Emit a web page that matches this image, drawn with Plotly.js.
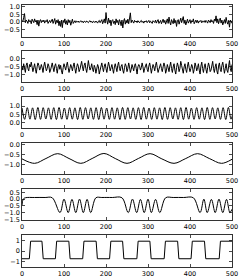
<!DOCTYPE html>
<html><head><meta charset="utf-8">
<script src="https://cdn.plot.ly/plotly-3.0.1.min.js"></script>
<style>html,body{margin:0;padding:0;background:#fff}#c{width:245px;height:280px}</style>
</head><body><div id="c"></div>
<script>
// Panel 1: noise around 0 (sampled every 2 units)
const noise1 = [0.10,0.02,0.30,0.55,-0.05,0.12,0.05,-0.10,0.15,0.02,
0.08,-0.12,0.18,0.05,-0.05,0.20,0.00,0.10,-0.18,0.12,
-0.28,0.05,0.15,-0.05,0.10,0.00,0.12,-0.08,0.08,0.02,
0.15,-0.10,0.05,0.10,-0.05,0.08,0.18,-0.10,0.05,0.22,
-0.15,0.10,-0.05,0.15,-0.25,0.05,-0.30,0.12,-0.38,0.10,
-0.05,0.20,-0.15,0.08,-0.20,0.15,-0.05,0.10,-0.22,0.05,
0.18,-0.10,0.02,0.08,-0.05,0.05,0.00,0.06,-0.04,0.03,
0.08,-0.02,0.04,-0.06,0.05,0.02,-0.03,0.06,0.00,-0.05,
0.04,0.08,-0.02,0.03,-0.06,0.05,0.00,-0.04,0.06,0.02,
-0.08,0.05,0.10,-0.05,0.08,0.15,-0.12,0.05,0.20,-0.08,
0.62,0.10,-0.15,0.25,-0.05,0.12,-0.25,0.08,0.15,-0.10,
0.05,-0.18,0.20,-0.05,0.10,-0.20,0.15,0.02,-0.25,0.12,
-0.40,0.05,0.22,-0.15,0.10,-0.08,0.18,-0.12,0.25,0.60,
-0.05,0.12,0.02,-0.08,0.10,0.00,0.06,-0.05,0.08,0.02,
-0.06,0.05,0.10,-0.03,0.04,-0.08,0.06,0.00,0.08,-0.05,
0.03,0.10,-0.06,0.05,0.00,-0.10,0.08,0.02,-0.04,0.12,
-0.08,0.05,0.15,-0.10,0.02,0.10,-0.12,0.06,0.18,-0.05,
0.10,-0.15,0.05,0.20,-0.10,0.32,0.00,-0.20,0.15,0.05,
-0.12,0.22,-0.08,0.10,-0.30,0.08,0.15,-0.15,0.05,0.25,
-0.05,0.10,0.35,-0.10,0.12,-0.20,0.05,0.18,-0.08,0.02,
0.15,-0.10,0.08,0.00,0.20,-0.12,0.05,0.12,-0.05,0.10,
-0.08,0.06,0.02,0.10,-0.06,0.05,0.00,0.08,-0.04,0.10,
0.02,-0.08,0.12,0.05,-0.05,0.15,0.00,0.08,-0.10,0.18,
0.05,0.40,-0.05,0.20,-0.12,0.10,0.25,-0.08,0.12,-0.20,
0.05,0.15,-0.10,0.30,0.00,-0.15,0.10,-0.35,0.12,0.05,
-0.10];
// Panel 2: noise around -0.5 (sampled every 2 units)
const noise2 = [-0.45,-0.70,-0.30,-0.55,-0.85,-0.40,-0.25,-0.60,-0.75,-0.35,
-0.50,-0.20,-0.45,-0.80,-0.55,-0.30,-0.65,-0.90,-0.50,-0.25,
-0.40,-0.70,-0.60,-0.35,-0.55,-0.85,-0.45,-0.20,-0.50,-0.75,
-0.60,-0.30,-0.45,-0.85,-0.70,-0.40,-0.25,-0.55,-0.80,-0.45,
-0.30,-0.60,-0.90,-0.50,-0.35,-0.65,-0.40,-0.75,-0.95,-0.55,
-0.30,-0.50,-0.70,-0.40,-0.20,-0.55,-0.85,-0.60,-0.35,-0.50,
-0.75,-0.45,-0.25,-0.60,-0.90,-0.55,-0.30,-0.45,-0.80,-0.65,
-0.35,-0.15,-0.50,-0.75,-0.40,-0.25,-0.60,-0.85,-0.50,-0.10,
-0.45,-0.70,-0.55,-0.30,-0.65,-0.80,-0.40,-0.55,-0.90,-0.60,
-0.35,-0.50,-0.95,-0.70,-0.40,-0.25,-0.55,-0.80,-0.45,-0.30,
-0.60,-0.85,-0.50,-0.20,-0.45,-0.75,-0.55,-0.35,-0.65,-0.90,
-0.50,-0.30,-0.55,-0.80,-0.40,-0.20,-0.60,-0.75,-0.45,-0.35,
-0.70,-0.90,-0.55,-0.30,-0.45,-0.80,-0.60,-0.25,-0.50,-0.85,
-0.65,-0.35,-0.55,-0.75,-0.40,-0.30,-0.60,-0.95,-0.50,-0.35,
-0.45,-0.70,-0.55,-0.25,-0.50,-0.85,-0.60,-0.40,-0.30,-0.65,
-0.80,-0.45,-0.25,-0.55,-0.90,-0.60,-0.35,-0.50,-0.75,-0.40,
-0.20,-0.55,-0.85,-0.65,-0.40,-0.30,-0.60,-0.80,-0.50,-0.25,
-0.45,-0.90,-0.70,-0.35,-0.55,-0.80,-0.45,-0.20,-0.60,-0.85,
-0.50,-0.30,-0.70,-0.95,-0.55,-0.25,-0.45,-0.80,-0.60,-0.15,
-0.40,-0.75,-0.90,-0.50,-0.30,-0.65,-0.85,-0.45,-0.20,-0.55,
-0.80,-0.60,-0.35,-0.50,-0.90,-0.65,-0.25,-0.45,-0.75,-0.55,
-0.30,-0.70,-0.95,-0.45,-0.20,-0.60,-0.85,-0.50,-0.30,-0.65,
-0.90,-0.55,-0.25,-0.45,-0.80,-0.70,-0.35,-0.15,-0.60,-0.85,
-0.50,-0.30,-0.75,-0.95,-0.45,-0.25,-0.65,-0.80,-0.40,-0.20,
-0.55,-0.90,-0.60,-0.30,-0.70,-0.85,-0.45,-0.10,-0.60,-0.80,
-0.35];
// Panel 3: fast sinusoid, successive extremes every 6.3 units
const sine3Extremes = [0.88,0.20,0.90,0.21,0.89,0.19,0.91,0.20,0.90,0.22,
0.89,0.20,0.90,0.19,0.91,0.21,0.88,0.20,0.90,0.21,
0.89,0.19,0.91,0.20,0.90,0.22,0.89,0.20,0.90,0.19,
0.91,0.21,0.88,0.20,0.90,0.21,0.89,0.19,0.91,0.20,
0.90,0.22,0.89,0.20,0.90,0.19,0.91,0.21,0.88,0.20,
0.90,0.21,0.89,0.19,0.91,0.20,0.90,0.22,0.89,0.20,
0.90,0.19,0.91,0.21,0.88,0.20,0.90,0.21,0.89,0.19,
0.91,0.20,0.90,0.22,0.89,0.20,0.90,0.19,0.91,0.21,0.88];
// Panel 4: slow wave
const x4 = [0,30,57,85,112,140,167,195,222,250,277,305,333,362,390,418,446,475,500];
const y4 = [-0.72,-0.95,-0.70,-0.45,-0.70,-0.95,-0.70,-0.44,-0.70,-0.95,-0.70,-0.45,-0.72,-0.95,-0.70,-0.45,-0.70,-0.95,-0.74];
// Panel 5: bursts
const x5 = [0,3,8,30,55,72,90.5,100,110,119,128,137,146,155,163.5,176,190,215,238,
253,263,273,282,291,300,308,318,328,342,360,385,408,
424,433,441,451,460,469,478,487,495,500];
const y5 = [-0.45,0.0,0.10,0.12,0.12,0.10,-1.0,0.0,-1.0,-0.02,-1.0,0.0,-1.0,-0.02,-1.0,0.10,0.12,0.12,0.10,
-1.0,0.0,-1.0,-0.02,-1.0,0.0,-1.0,-0.02,-1.0,0.10,0.12,0.12,0.10,
-1.0,0.0,-1.0,-0.02,-1.0,0.0,-1.0,-0.02,-1.0,-0.75];
// Panel 6: square wave
const x6 = [0,17.5,20.5,47.5,50.5,79.5,82.5,111.5,114.5,144.5,147.5,176.5,179.5,208.5,211.5,239.5,242.5,
273.5,276.5,304.5,307.5,338.5,341.5,370.5,373.5,402.5,405.5,434.5,437.5,469.5,472.5,500];
const y6 = [-0.75,-0.75,0.95,0.95,-0.75,-0.75,0.95,0.95,-0.75,-0.75,0.95,0.95,-0.75,-0.75,0.95,0.95,-0.75,
-0.75,0.95,0.95,-0.75,-0.75,0.95,0.95,-0.75,-0.75,0.95,0.95,-0.75,-0.75,0.95,0.95];

const xTicks = [0,100,200,300,400,500];
const yTicks = [[1.0,0.5,0.0,-0.5],[0.0,-0.5,-1.0],[1.0,0.5,0.0],[0.0,-0.5,-1.0],[0.5,0.0,-0.5,-1.0,-1.5],[1,0,-1]];
const yTickText = [["1.0","0.5","0.0","\u22120.5"],["0.0","\u22120.5","\u22121.0"],["1.0","0.5","0.0"],["0.0","\u22120.5","\u22121.0"],["0.5","0.0","\u22120.5","\u22121.0","\u22121.5"],["1","0","\u22121"]];
const yRanges = [[-1.0,1.12],[-1.45,0.5],[-0.32,1.54],[-1.5,0.1],[-1.55,0.75],[-1.55,1.55]];
const frames = [[5,37],[51,82],[97,128],[143,174],[189,220],[235,267]];

const H = 280;
const line = {color:'#000', width:1};
const sline = {color:'#000', width:1, shape:'spline', smoothing:1};
const traces = [
  {y: noise1, x0:0, dx:2, mode:'lines', line, xaxis:'x', yaxis:'y'},
  {y: noise2, x0:0, dx:2, mode:'lines', line, xaxis:'x2', yaxis:'y2'},
  {y: sine3Extremes, x0:0, dx:6.3, mode:'lines', line:sline, xaxis:'x3', yaxis:'y3'},
  {x: x4, y: y4, mode:'lines', line:sline, xaxis:'x4', yaxis:'y4'},
  {x: x5, y: y5, mode:'lines', line:sline, xaxis:'x5', yaxis:'y5'},
  {x: x6, y: y6, mode:'lines', line, xaxis:'x6', yaxis:'y6'}
];
const font = {family:'DejaVu Sans', size:6.5, color:'#000'};
const layout = {width:245, height:280, margin:{l:22,r:13,t:0,b:0}, showlegend:false,
  paper_bgcolor:'#fff', plot_bgcolor:'#fff', font};
for (let i=0;i<6;i++){
  const s = i===0?'':String(i+1);
  const [T,B] = frames[i];
  layout['xaxis'+s] = {anchor:'y'+s, range:[0,500], tickvals:xTicks, ticktext:xTicks.map(String),
    ticks:'inside', ticklen:3, tickwidth:0.7, tickcolor:'#000', showline:true, linecolor:'#000', linewidth:0.8,
    mirror:'ticks', showgrid:false, zeroline:false, tickfont:font, fixedrange:true};
  layout['yaxis'+s] = {anchor:'x'+s, domain:[1-B/H, 1-T/H], range:yRanges[i], tickvals:yTicks[i], ticktext:yTickText[i],
    ticks:'inside', ticklen:3, tickwidth:0.7, tickcolor:'#000', showline:true, linecolor:'#000', linewidth:0.8,
    mirror:'ticks', showgrid:false, zeroline:false, tickfont:font, fixedrange:true};
}
Plotly.newPlot('c', traces, layout, {displayModeBar:false, staticPlot:true});
</script></body></html>
